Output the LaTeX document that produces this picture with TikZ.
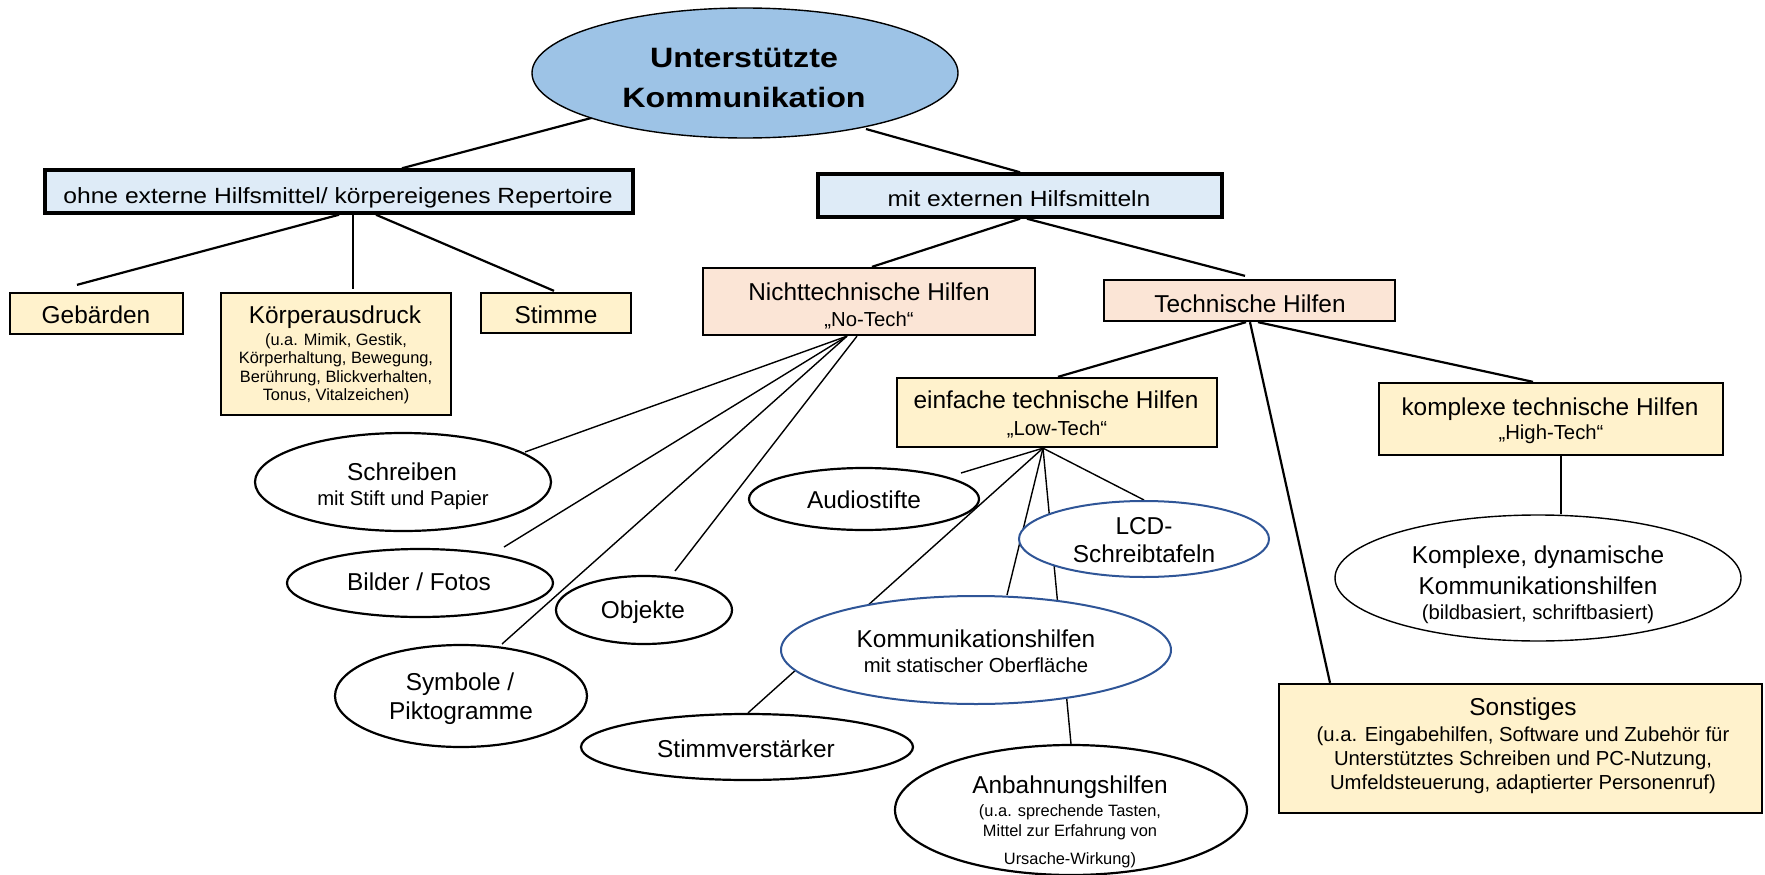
\documentclass[tikz,border=0pt]{standalone}
\usepackage{fontspec}
\setmainfont{Liberation Sans}
\newfontfamily\widefont[FakeStretch=1.12]{Liberation Sans}
\newfontfamily\titlefont[FakeStretch=1.15]{Liberation Sans}
\usetikzlibrary{shapes.geometric}
\pgfdeclarelayer{back}
\pgfdeclarelayer{lines}
\pgfsetlayers{back,lines,main}
\definecolor{cTitle}{HTML}{9DC3E6}
\definecolor{cLight}{HTML}{DEEBF7}
\definecolor{cPeach}{HTML}{FBE5D6}
\definecolor{cYellow}{HTML}{FFF2CC}
\definecolor{cBlueLine}{HTML}{2F5597}
\begin{document}
\begin{tikzpicture}[x=1pt,y=-1pt,
  box/.style={draw=black, rectangle, line width=2.3pt, inner sep=0pt},
  topbox/.style={box, line width=3.5pt, fill=cLight},
  peachbox/.style={box, fill=cPeach},
  yellowbox/.style={box, fill=cYellow},
  ell/.style={draw=black, ellipse, line width=2.2pt, fill=white, inner sep=0pt},
  blueell/.style={ell, draw=cBlueLine, line width=2pt},
  cthick/.style={line width=2.2pt},
  cthin/.style={line width=1.4pt},
  lbl/.style={anchor=base, inner sep=0pt, font=\fontsize{24.4}{28}\selectfont},
  sml/.style={anchor=base, inner sep=0pt, font=\fontsize{20.3}{24}\selectfont},
  xs/.style={anchor=base, inner sep=0pt, font=\fontsize{16.4}{19}\selectfont},
  wlbl/.style={anchor=base, inner sep=0pt, font=\widefont\fontsize{22}{26}\selectfont},
  ttl/.style={anchor=base, inner sep=0pt, font=\titlefont\bfseries\fontsize{28}{33}\selectfont}
]
\begin{pgfonlayer}{back}
\fill[white] (0,0) rectangle (1765,875);
\end{pgfonlayer}
\useasboundingbox (0,0) rectangle (1765,875);

% ---------- shapes ----------
\node[ell, fill=cTitle, line width=1.4pt, minimum width=426pt, minimum height=130pt] (title) at (745,73) {};
\node[topbox, minimum width=588pt, minimum height=43pt] (ohne) at (339,191.5) {};
\node[topbox, minimum width=404pt, minimum height=43pt] (mit) at (1020,195.5) {};
\node[yellowbox, minimum width=173pt, minimum height=41pt] (geb) at (96.5,313.5) {};
\node[yellowbox, minimum width=230pt, minimum height=122pt] (koerper) at (336,354) {};
\node[yellowbox, minimum width=150pt, minimum height=40pt] (stimme) at (556,313) {};
\node[peachbox, minimum width=332pt, minimum height=67pt] (nicht) at (869,301.5) {};
\node[peachbox, minimum width=291pt, minimum height=41pt] (tech) at (1249.5,300.5) {};
\node[yellowbox, minimum width=320pt, minimum height=69pt] (einf) at (1057,412.5) {};
\node[yellowbox, minimum width=344pt, minimum height=72pt] (kompl) at (1551,419) {};
\node[yellowbox, minimum width=483pt, minimum height=129pt] (sonst) at (1520.5,748.5) {};
\node[ell, line width=1.4pt, minimum width=406pt, minimum height=126pt] (kell) at (1538,578) {};
\node[ell, minimum width=296pt, minimum height=98pt] (schreib) at (403,482) {};
\node[ell, minimum width=266pt, minimum height=68pt] (bilder) at (420,583) {};
\node[ell, minimum width=176pt, minimum height=68pt] (objekte) at (644,610) {};
\node[ell, minimum width=252pt, minimum height=102pt] (symbole) at (461,696) {};
\node[ell, minimum width=230pt, minimum height=62pt] (audio) at (864,499) {};
\node[blueell, minimum width=250pt, minimum height=76pt] (lcd) at (1144,539) {};
\node[blueell, minimum width=390pt, minimum height=108pt] (komm) at (976,650) {};
\node[ell, minimum width=332pt, minimum height=66pt] (stimmv) at (747,747) {};
\node[ell, minimum width=352pt, minimum height=130pt] (anbahn) at (1071,810) {};

% ---------- connectors ----------
\begin{pgfonlayer}{lines}
\draw[cthick] ([xshift=-150pt,yshift=-44pt]title.center) -- ([xshift=63pt]ohne.north);
\draw[cthick] ([xshift=121pt,yshift=-56pt]title.center) -- (mit.north);
\draw[cthick] (ohne.south) -- ([xshift=-19.5pt,yshift=7pt]geb.north);
\draw[cthick] ([xshift=14pt]ohne.south) -- ([xshift=17pt,yshift=3pt]koerper.north);
\draw[cthick] ([xshift=37pt]ohne.south) -- ([xshift=-2pt,yshift=1pt]stimme.north);
\draw[cthick] (mit.south) -- ([xshift=3pt]nicht.north);
\draw[cthick] ([xshift=7pt]mit.south) -- ([xshift=-4.5pt,yshift=3pt]tech.north);
\draw[cthick] ([xshift=-3.5pt]tech.south) -- ([xshift=1pt]einf.north);
\draw[cthick] ([xshift=0.5pt]tech.south) -- ([xshift=-190.5pt]sonst.north);
\draw[cthick] ([xshift=8.5pt]tech.south) -- ([xshift=-18pt]kompl.north);
\draw[line width=1.7pt] ([xshift=10pt]kompl.south) -- ([xshift=23pt]kell.north);
\draw[cthin] ([xshift=-22pt]nicht.south) -- ([xshift=122pt,yshift=30pt]schreib.center);
\draw[cthin] ([xshift=-22pt]nicht.south) -- ([xshift=84pt,yshift=36pt]bilder.center);
\draw[cthin] ([xshift=-22pt]nicht.south) -- ([xshift=41pt,yshift=52pt]symbole.center);
\draw[cthin] ([xshift=-12pt]nicht.south) -- ([xshift=31pt,yshift=39pt]objekte.center);
\draw[cthin] ([xshift=-14pt]einf.south) -- ([xshift=97pt,yshift=26pt]audio.center);
\draw[cthin] ([xshift=-14pt]einf.south) -- ([xshift=1pt]stimmv.north);
\draw[cthin] ([xshift=-14pt]einf.south) -- ([xshift=31pt,yshift=55pt]komm.center);
\draw[cthin] ([xshift=-14pt]einf.south) -- (anbahn.north);
\draw[cthin] ([xshift=-14pt]einf.south) -- (lcd.north);
\end{pgfonlayer}

% ---------- texts ----------
\node[ttl] (title-1) at (744,68) {Unterstützte};
\node[ttl] (title-2) at (744,107) {Kommunikation};
\node[wlbl] (ohne-1) at (338,203) {ohne externe Hilfsmittel/ körpereigenes Repertoire};
\node[wlbl] (mit-1) at (1019,206) {mit externen Hilfsmitteln};
\node[lbl] (geb-1) at (96,323) {Gebärden};
\node[lbl] (koerper-1) at (335,323) {Körperausdruck};
\node[xs] (koerper-2) at (336,345) {(u.a. Mimik, Gestik,};
\node[xs] (koerper-3) at (336,363.5) {Körperhaltung, Bewegung,};
\node[xs] (koerper-4) at (336,382) {Berührung, Blickverhalten,};
\node[xs] (koerper-5) at (336,400.5) {Tonus, Vitalzeichen)};
\node[lbl] (stimme-1) at (556,323) {Stimme};
\node[lbl] (nicht-1) at (869,300) {Nichttechnische Hilfen};
\node[sml] (nicht-2) at (869,326) {„No-Tech“};
\node[lbl] (tech-1) at (1250,312) {Technische Hilfen};
\node[lbl] (einf-1) at (1056,408) {einfache technische Hilfen};
\node[sml] (einf-2) at (1057,435) {„Low-Tech“};
\node[lbl] (kompl-1) at (1550,415) {komplexe technische Hilfen};
\node[sml] (kompl-2) at (1551,439) {„High-Tech“};
\node[lbl] (sonst-1) at (1523,715) {Sonstiges};
\node[sml] (sonst-2) at (1523,741) {(u.a. Eingabehilfen, Software und Zubehör für};
\node[sml] (sonst-3) at (1523,765) {Unterstütztes Schreiben und PC-Nutzung,};
\node[sml] (sonst-4) at (1523,789) {Umfeldsteuerung, adaptierter Personenruf)};
\node[lbl] (kell-1) at (1538,563) {Komplexe, dynamische};
\node[lbl] (kell-2) at (1538,594) {Kommunikationshilfen};
\node[sml] (kell-3) at (1538,619) {(bildbasiert, schriftbasiert)};
\node[lbl] (schreib-1) at (402,480) {Schreiben};
\node[sml] (schreib-2) at (403,505) {mit Stift und Papier};
\node[lbl] (bilder-1) at (419,590) {Bilder / Fotos};
\node[lbl] (objekte-1) at (643,618) {Objekte};
\node[lbl] (symbole-1) at (460,690) {Symbole /};
\node[lbl] (symbole-2) at (461,719) {Piktogramme};
\node[lbl] (audio-1) at (864,508) {Audiostifte};
\node[lbl] (lcd-1) at (1144,534) {LCD-};
\node[lbl] (lcd-2) at (1144,562) {Schreibtafeln};
\node[lbl] (komm-1) at (976,647) {Kommunikationshilfen};
\node[sml] (komm-2) at (976,672) {mit statischer Oberfläche};
\node[lbl] (stimmv-1) at (746,757) {Stimmverstärker};
\node[lbl] (anbahn-1) at (1070,793) {Anbahnungshilfen};
\node[xs] (anbahn-2) at (1070,816) {(u.a. sprechende Tasten,};
\node[xs] (anbahn-3) at (1070,836) {Mittel zur Erfahrung von};
\node[xs] (anbahn-4) at (1070,864) {Ursache-Wirkung)};
\end{tikzpicture}
\end{document}
